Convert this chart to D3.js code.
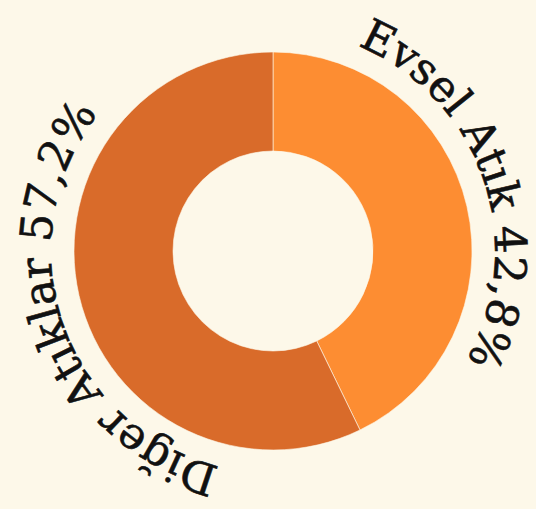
<!DOCTYPE html>
<html>
<head>
<meta charset="utf-8">
<script src="https://cdn.jsdelivr.net/npm/d3@7"></script>
<style>
  html, body { margin: 0; padding: 0; background: #fdf8e9; }
  svg { display: block; }
</style>
</head>
<body>
<svg id="chart" width="536" height="509"></svg>
<script>
// veri
const categories = ['Evsel Atık', 'Diğer Atıklar'];
const values = [42.8, 57.2];
const colors = ['#fd8d32', '#d96b2a'];

const width = 536, height = 509;
const cx = 273, cy = 251;
const innerR = 100, outerR = 199;
const labelR = 222;
const labelShift = 6 * Math.PI / 180; // etiketler biraz geride

const svg = d3.select('#chart');
const g = svg.append('g').attr('transform', `translate(${cx},${cy})`);

const data = categories.map((c, i) => ({ name: c, value: values[i], color: colors[i] }));

const pie = d3.pie().sort(null).value(d => d.value);
const arc = d3.arc().innerRadius(innerR).outerRadius(outerR);
const arcs = pie(data);

// dilimler
g.selectAll('path.slice')
  .data(arcs)
  .enter()
  .append('path')
  .attr('class', 'slice')
  .attr('d', arc)
  .attr('fill', d => d.data.color)
  .attr('stroke', '#fdf8e9')
  .attr('stroke-width', 0.6);

// kavisli etiketler
const fmt = v => d3.format('.1f')(v).replace('.', ',');

arcs.forEach((d, i) => {
  // d3 açısı -> canvas açısı (saat 12 = -PI/2)
  const mid = (d.startAngle + d.endAngle) / 2 - labelShift - Math.PI / 2;
  const a0 = mid - Math.PI / 2;
  const a1 = mid + Math.PI / 2;
  const p = d3.path();
  p.moveTo(Math.cos(a0) * labelR, Math.sin(a0) * labelR);
  p.arc(0, 0, labelR, a0, a1);
  g.append('path')
    .attr('id', 'lbl' + i)
    .attr('d', p.toString())
    .attr('fill', 'none');
  g.append('text')
    .attr('font-family', '"DejaVu Serif", serif')
    .attr('font-size', 44)
    .attr('fill', '#111')
    .attr('stroke', '#111')
    .attr('stroke-width', 0.6)
    .append('textPath')
    .attr('href', '#lbl' + i)
    .attr('startOffset', '50%')
    .attr('text-anchor', 'middle')
    .text(`${d.data.name} ${fmt(d.data.value)}%`);
});
</script>
</body>
</html>
